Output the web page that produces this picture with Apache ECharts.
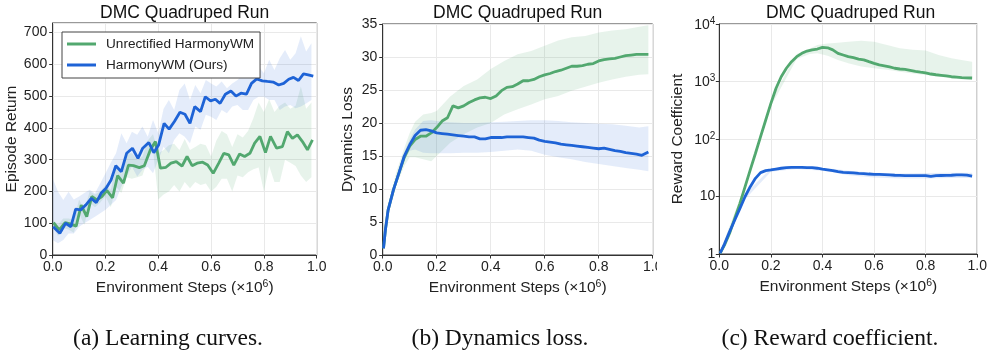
<!DOCTYPE html>
<html>
<head>
<meta charset="utf-8">
<script src="https://cdn.jsdelivr.net/npm/echarts@6/dist/echarts.min.js"></script>
<style>html,body{margin:0;padding:0;background:#fff}#c{width:990px;height:352px}</style>
</head>
<body>
<div id="c"></div>
<script>
// ---------- shared text ----------
const panelTitle = 'DMC Quadruped Run';
const seriesNames = ['Unrectified HarmonyWM', 'HarmonyWM (Ours)'];
const xTicks = [0, 0.2, 0.4, 0.6, 0.8, 1.0];
const xTickLabels = ['0.0', '0.2', '0.4', '0.6', '0.8', '1.0'];
const yNames = ['Episode Return', 'Dynamics Loss', 'Reward Coefficient'];
const captions = ['(a) Learning curves.', '(b) Dynamics loss.', '(c) Reward coefficient.'];
const logTicks = [1, 10, 100, 1000, 10000];
const logTickExp = [0, 1, 2, 3, 4];

// ---------- panel (a): episode return ----------
const stepsA_green = [0.003,0.025,0.047,0.066,0.089,0.108,0.129,0.148,0.167,0.186,0.205,0.227,0.246,0.268,0.287,0.306,0.328,0.347,0.370,0.389,0.408,0.429,0.448,0.468,0.490,0.509,0.528,0.547,0.568,0.587,0.608,0.629,0.648,0.667,0.686,0.708,0.727,0.747,0.765,0.785,0.806,0.825,0.848,0.870,0.889,0.908,0.927,0.946,0.965,0.984];
const returnGreen = [102,79,102,98,91,157,121,184,173,184,203,180,250,226,283,281,275,281,331,357,273,276,289,294,280,310,281,289,292,283,257,289,320,315,283,318,310,320,352,373,322,373,336,341,388,367,378,357,331,362];
const stepsA_blue = [0.002,0.027,0.049,0.069,0.087,0.106,0.125,0.146,0.165,0.183,0.202,0.221,0.239,0.260,0.280,0.302,0.323,0.341,0.364,0.383,0.401,0.422,0.441,0.461,0.482,0.501,0.520,0.538,0.560,0.578,0.598,0.616,0.634,0.654,0.675,0.694,0.713,0.734,0.753,0.773,0.794,0.813,0.835,0.856,0.875,0.894,0.912,0.931,0.950,0.968,0.987];
const returnBlue = [89,68,100,89,144,142,157,178,165,194,210,236,281,262,320,336,304,336,354,322,346,414,396,420,449,443,414,467,451,498,485,490,477,506,516,500,509,506,540,554,548,546,544,535,540,553,559,549,570,567,563];
const bandStepsA = [0,0.02,0.04,0.06,0.08,0.10,0.12,0.14,0.16,0.18,0.20,0.22,0.24,0.26,0.28,0.30,0.32,0.34,0.36,0.38,0.40,0.42,0.44,0.46,0.48,0.50,0.52,0.54,0.56,0.58,0.60,0.62,0.64,0.66,0.68,0.70,0.72,0.74,0.76,0.78,0.80,0.82,0.84,0.86,0.88,0.90,0.92,0.94,0.96,0.98];
const returnGreenHi = [110,95,115,115,110,175,140,200,190,200,220,205,280,255,320,320,300,310,360,380,320,330,345,350,330,365,330,340,350,345,310,360,390,380,340,380,370,390,430,480,450,490,450,470,480,460,470,530,460,480];
const returnGreenLo = [90,60,85,80,70,130,95,165,150,165,185,150,215,195,245,240,245,250,300,330,175,190,200,220,200,230,210,230,220,225,200,215,240,240,200,250,245,260,270,275,200,280,230,230,300,290,280,250,230,245];
const returnBlueHi = [241,200,173,199,175,184,195,205,194,225,257,290,320,383,352,388,378,404,372,425,383,460,488,456,519,540,488,535,509,551,540,530,546,525,540,551,567,556,603,593,572,614,582,619,645,614,635,688,640,666];
const returnBlueLo = [47,37,47,68,68,89,100,110,120,131,142,157,173,215,247,278,247,268,278,257,299,341,320,362,383,372,352,404,394,441,435,425,456,446,467,472,456,456,488,498,498,488,488,456,467,472,462,467,477,488];

// ---------- panel (b): dynamics loss ----------
const stepsB = [0.003,0.01,0.02,0.04,0.06,0.08,0.10,0.12,0.14,0.16,0.18,0.20,0.22,0.24,0.26,0.28,0.30,0.32,0.34,0.36,0.38,0.40,0.42,0.44,0.46,0.48,0.50,0.52,0.54,0.56,0.58,0.60,0.62,0.64,0.66,0.68,0.70,0.72,0.74,0.76,0.78,0.80,0.82,0.84,0.86,0.88,0.90,0.92,0.94,0.96,0.984];
const lossBlue = [1.0,3.8,6.8,9.9,12.4,15.0,16.7,18.1,18.9,19.0,18.8,18.5,18.4,18.3,18.2,18.1,18.0,17.9,17.9,17.6,17.6,17.8,17.8,17.8,17.9,17.9,17.9,17.9,17.8,17.7,17.4,17.2,17.1,17.0,16.8,16.7,16.6,16.5,16.4,16.3,16.2,16.1,16.2,16.0,15.8,15.7,15.5,15.4,15.3,15.1,15.6];
const lossGreen = [1.0,3.8,6.8,9.9,12.4,14.8,16.5,17.5,18.0,18.0,18.5,19.3,20.3,20.8,22.6,22.3,22.6,23.1,23.5,23.8,23.9,23.7,24.1,24.9,25.4,25.5,25.9,26.4,26.4,26.6,27.0,27.3,27.5,27.8,28.0,28.3,28.6,28.6,28.7,28.9,29.0,29.4,29.6,29.7,29.8,30.0,30.2,30.3,30.4,30.4,30.4];
const bandStepsB = [0.003,0.02,0.05,0.08,0.10,0.12,0.15,0.18,0.20,0.25,0.30,0.35,0.40,0.45,0.50,0.55,0.60,0.65,0.70,0.75,0.80,0.85,0.90,0.95,0.984];
const lossGreenHi = [1.2,7.5,12.5,16.2,18.5,20.2,21.3,21.5,21.8,24.0,25.6,26.6,28.2,29.4,30.4,30.9,31.7,32.5,33.0,33.2,33.7,34.0,34.2,34.6,34.8];
const lossGreenLo = [0.8,6.0,10.5,13.5,14.8,14.8,14.5,14.2,15.0,17.0,18.3,19.3,20.0,21.3,22.1,22.8,23.6,24.1,24.9,25.5,26.1,26.6,27.0,27.3,27.4];
const lossBlueHi = [1.1,7.2,11.8,15.6,17.5,19.0,20.3,20.4,20.3,20.1,20.0,20.0,20.1,20.2,20.3,20.4,20.4,20.3,20.1,20.0,19.9,19.8,19.6,19.3,19.5];
const lossBlueLo = [0.9,6.4,10.8,14.3,15.8,16.0,15.5,15.4,15.4,15.4,15.5,15.5,15.6,15.8,16.0,15.8,15.2,14.8,14.5,14.1,13.8,13.5,13.2,12.9,12.7];

// ---------- panel (c): reward coefficient ----------
const stepsC = [0.003,0.02,0.04,0.06,0.08,0.10,0.12,0.14,0.16,0.18,0.20,0.22,0.24,0.26,0.28,0.30,0.32,0.34,0.36,0.38,0.40,0.42,0.44,0.46,0.48,0.50,0.52,0.54,0.56,0.58,0.60,0.62,0.64,0.66,0.68,0.70,0.72,0.74,0.76,0.78,0.80,0.82,0.84,0.86,0.88,0.90,0.92,0.94,0.96,0.98];
const coefGreen = [1.03,1.43,2.3,4.2,7.6,14.8,29,56,110,214,417,762,1210,1700,2214,2700,3090,3390,3550,3670,3930,3860,3550,3090,2890,2700,2600,2450,2370,2214,2070,1940,1870,1790,1700,1650,1620,1560,1500,1450,1410,1350,1310,1280,1250,1210,1190,1170,1160,1150];
const coefBlue = [1.03,1.49,2.45,3.9,6.2,10,14.8,20.7,26,28.2,29,30,31,31.8,32,32,32,31.8,31.8,31,29.8,29,28.2,27,26.3,26,25.7,25.3,25,24.6,24.3,24.3,24,23.7,23.4,23.3,23,23,23,23,23,22.4,23,23.2,23.3,23.4,23.7,23.7,23.5,22.7];
const bandStepsC_green = [0.003,0.10,0.20,0.30,0.35,0.38,0.42,0.46,0.50,0.55,0.60,0.65,0.70,0.75,0.80,0.85,0.90,0.95,0.98];
const coefGreenHi = [1.1,16,470,3000,3700,4300,4600,4700,4900,5100,4900,4300,3780,3550,3470,2890,2530,2310,2214];
const coefGreenLo = [1.0,13.5,370,2450,3000,3090,2800,2370,2070,1820,1700,1600,1480,1380,1300,1220,1130,1080,1060];
const bandStepsC_blue = [0.003,0.10,0.20,0.30,0.40,0.45,0.50,0.60,0.70,0.80,0.90,0.98];
const coefBlueHi = [1.05,11,31,34,31,30,28,26,25,25.5,26,26];
const coefBlueLo = [1.0,9,27,30,28,26,23.5,21.5,20.5,20.5,21,21];

// ---------- style ----------
const GREEN = '#52a86f', BLUE = '#1e63d6';
const GREEN_BAND = 'rgba(82,168,111,0.14)', BLUE_BAND = 'rgba(30,99,214,0.12)';
const FONT = '"Liberation Sans", Arial, sans-serif';
const INK = '#222', FRAME = '#333', GRIDC = '#e9e9e9';
const TICK_FS = 14, NAME_FS = 15.5, TITLE_FS = 17.5;

const chart = echarts.init(document.getElementById('c'), null, {renderer: 'canvas'});

function pairs(xs, ys) { return xs.map((x, i) => [x, ys[i]]); }

function band(idx, steps, lo, hi, color) {
  return {
    type: 'custom', xAxisIndex: idx, yAxisIndex: idx, z: 1, silent: true, clip: true,
    data: steps.map((t, i) => [t, lo[i], hi[i]]),
    encode: {x: 0, y: [1, 2]},
    renderItem: function (params, api) {
      if (params.dataIndex !== 0) return null;
      const pts = [];
      for (let i = 0; i < steps.length; i++) pts.push(api.coord([steps[i], hi[i]]));
      for (let i = steps.length - 1; i >= 0; i--) pts.push(api.coord([steps[i], lo[i]]));
      return {type: 'polygon', shape: {points: pts}, style: {fill: color}};
    }
  };
}
function line(idx, name, xs, ys, color) {
  return {
    type: 'line', name: name, xAxisIndex: idx, yAxisIndex: idx, z: 3,
    data: pairs(xs, ys), showSymbol: false, symbol: 'none', silent: true,
    lineStyle: {width: 2.8, color: color}, itemStyle: {color: color}
  };
}

const grids = [
  {left: 52.7, top: 23, width: 264, height: 232},
  {left: 382.7, top: 24, width: 270, height: 231},
  {left: 719.3, top: 24, width: 262.4, height: 230}
].map(g => Object.assign(g, {show: true, borderColor: FRAME, borderWidth: 1, backgroundColor: 'transparent', containLabel: false}));

const superRich = {
  n: {fontFamily: FONT, fontSize: NAME_FS, color: INK, lineHeight: 17, verticalAlign: 'bottom'},
  s: {fontFamily: FONT, fontSize: 10.5, color: INK, lineHeight: 10, verticalAlign: 'top'},
  b: {fontFamily: FONT, fontSize: TICK_FS, color: INK, lineHeight: 16, verticalAlign: 'bottom'},
  t: {fontFamily: FONT, fontSize: 10, color: INK, lineHeight: 10, verticalAlign: 'top'}
};

function xAxis(idx, gap) {
  return {
    type: 'value', gridIndex: idx, min: 0, max: 1, interval: 0.2,
    name: '{n|Environment Steps (×10}{s|6}{n|)}', nameLocation: 'middle', nameGap: gap,
    nameTextStyle: {rich: superRich},
    axisLine: {show: true, lineStyle: {color: FRAME, width: 1}},
    axisTick: {show: true, length: 3.5, lineStyle: {color: FRAME}},
    axisLabel: {fontFamily: FONT, fontSize: TICK_FS, color: INK, margin: 5,
      formatter: v => { const k = xTicks.findIndex(t => Math.abs(t - v) < 1e-6); return k >= 0 ? xTickLabels[k] : ''; }},
    splitLine: {show: true, lineStyle: {color: GRIDC, width: 1}}
  };
}
const yCommon = {
  nameLocation: 'middle',
  nameTextStyle: {fontFamily: FONT, fontSize: NAME_FS, color: INK},
  axisLine: {show: true, lineStyle: {color: FRAME, width: 1}},
  axisTick: {show: true, length: 3.5, lineStyle: {color: FRAME}},
  splitLine: {show: true, lineStyle: {color: GRIDC, width: 1}}
};

const option = {
  animation: false,
  backgroundColor: '#fff',
  grid: grids,
  legend: {
    data: seriesNames, orient: 'vertical', left: 62, top: 32,
    backgroundColor: '#fff', borderColor: '#444', borderWidth: 1, borderRadius: 0,
    padding: [4, 6, 5, 5], itemGap: 5, itemWidth: 29, itemHeight: 3, icon: 'rect',
    textStyle: {fontFamily: FONT, fontSize: 13.6, color: INK, padding: [0, 0, 0, 5], lineHeight: 16},
    selectedMode: false
  },
  xAxis: [xAxis(0, 21), xAxis(1, 21), xAxis(2, 23.5)],
  yAxis: [
    Object.assign({}, yCommon, {type: 'value', gridIndex: 0, min: 0, max: 730, interval: 100, name: yNames[0], nameGap: 27,
      axisLabel: {fontFamily: FONT, fontSize: TICK_FS, color: INK, margin: 5.5, showMaxLabel: false}}),
    Object.assign({}, yCommon, {type: 'value', gridIndex: 1, min: 0, max: 35, interval: 5, name: yNames[1], nameGap: 27,
      axisLabel: {fontFamily: FONT, fontSize: TICK_FS, color: INK, margin: 5.5}}),
    Object.assign({}, yCommon, {type: 'log', logBase: 10, gridIndex: 2, min: 1, max: 10000, name: yNames[2], nameGap: 34,
      axisLabel: {fontFamily: FONT, fontSize: TICK_FS, color: INK, margin: 4, rich: superRich,
        formatter: v => {
          const k = logTicks.findIndex(t => Math.abs(t - v) / t < 1e-6);
          if (k < 0) return '';
          const e = logTickExp[k];
          if (e === 0) return '1';
          if (e === 1) return '10';
          return '{b|10}{t|' + e + '}';
        }}})
  ],
  series: [
    band(0, bandStepsA, returnGreenLo, returnGreenHi, GREEN_BAND),
    band(0, bandStepsA, returnBlueLo, returnBlueHi, BLUE_BAND),
    line(0, seriesNames[0], stepsA_green, returnGreen, GREEN),
    line(0, seriesNames[1], stepsA_blue, returnBlue, BLUE),

    band(1, bandStepsB, lossGreenLo, lossGreenHi, GREEN_BAND),
    band(1, bandStepsB, lossBlueLo, lossBlueHi, BLUE_BAND),
    line(1, seriesNames[0], stepsB, lossGreen, GREEN),
    line(1, seriesNames[1], stepsB, lossBlue, BLUE),

    band(2, bandStepsC_green, coefGreenLo, coefGreenHi, GREEN_BAND),
    band(2, bandStepsC_blue, coefBlueLo, coefBlueHi, BLUE_BAND),
    line(2, seriesNames[0], stepsC, coefGreen, GREEN),
    line(2, seriesNames[1], stepsC, coefBlue, BLUE)
  ],
  graphic: [
    // the subfigure (b) image is cropped at its right edge in the original, cutting its last x label
    {type: 'rect', shape: {x: 657, y: 257, width: 10, height: 20}, style: {fill: '#fff'}, z: 100, silent: true},
    {type: 'text', x: 184.7, y: 13, style: {text: panelTitle, font: TITLE_FS + 'px ' + FONT, fill: '#111', textAlign: 'center', textVerticalAlign: 'middle'}},
    {type: 'text', x: 517.7, y: 13, style: {text: panelTitle, font: TITLE_FS + 'px ' + FONT, fill: '#111', textAlign: 'center', textVerticalAlign: 'middle'}},
    {type: 'text', x: 850.5, y: 13, style: {text: panelTitle, font: TITLE_FS + 'px ' + FONT, fill: '#111', textAlign: 'center', textVerticalAlign: 'middle'}},
    {type: 'text', x: 168, y: 339, style: {text: captions[0], font: '23.5px "Liberation Serif", "Times New Roman", serif', fill: '#111', textAlign: 'center', textVerticalAlign: 'middle'}},
    {type: 'text', x: 500, y: 339, style: {text: captions[1], font: '23.5px "Liberation Serif", "Times New Roman", serif', fill: '#111', textAlign: 'center', textVerticalAlign: 'middle'}},
    {type: 'text', x: 830, y: 339, style: {text: captions[2], font: '23.5px "Liberation Serif", "Times New Roman", serif', fill: '#111', textAlign: 'center', textVerticalAlign: 'middle'}}
  ]
};
chart.setOption(option);
</script>
</body>
</html>
